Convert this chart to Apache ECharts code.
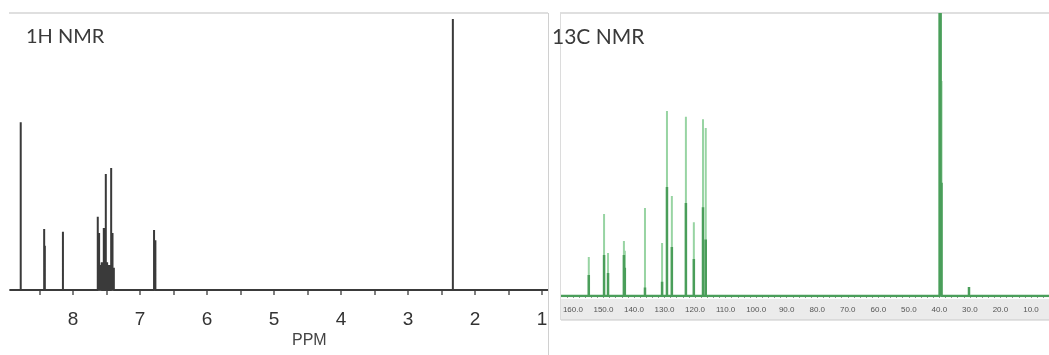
<!DOCTYPE html>
<html>
<head>
<meta charset="utf-8">
<script src="https://cdn.jsdelivr.net/npm/echarts@6/dist/echarts.min.js"></script>
<style>html,body{margin:0;padding:0;background:#fff}#c{width:1049px;height:355px}</style>
</head>
<body>
<div id="c"></div>
<script>
// ---- 1H NMR data (ppm, relative intensity %) ----
const h1Ppm = [8.78, 8.43, 8.42, 8.15, 7.63, 7.61, 7.59, 7.57, 7.54, 7.51, 7.49, 7.46, 7.43, 7.41, 7.39, 6.79, 6.77, 2.33];
const h1Int = [60.6, 22.0, 16.0, 21.0, 26.4, 20.6, 9.0, 10.0, 22.4, 41.9, 10.0, 9.0, 44.0, 20.6, 8.0, 21.7, 18.0, 97.8];
const h1Range = [8.94, 0.91];
const h1Labels = [1, 2, 3, 4, 5, 6, 7, 8];
const h1Ticks = [1, 1.5, 2, 2.5, 3, 3.5, 4, 4.5, 5, 5.5, 6, 6.5, 7, 7.5, 8, 8.5];

// ---- 13C NMR data (ppm, relative intensity %) ----
const c13Ppm = [154.8, 149.8, 148.5, 143.3, 143.0, 136.4, 130.8, 129.2, 127.6, 123.0, 120.4, 117.4, 116.5, 39.9, 39.6, 39.3, 30.3];
const c13Int = [13.8, 29.0, 15.2, 19.4, 16.0, 31.1, 18.7, 65.4, 35.3, 63.3, 26.1, 62.5, 59.4, 100, 100, 76, 3.2];
const c13Core = [7.4, 14.5, 8.1, 14.5, 10.0, 3.0, 5.0, 38.5, 17.3, 32.9, 13.1, 31.4, 20.0, 100, 100, 40, 3.2];
const c13Range = [163.9, 4.1];
const c13Labels = [10, 20, 30, 40, 50, 60, 70, 80, 90, 100, 110, 120, 130, 140, 150, 160];
const c13Ticks = [];
for (let v = 6; v <= 162; v += 2) c13Ticks.push(v);

function sticks(ppm, inten, range) {
  const idx = ppm.map((p, i) => i).sort((a, b) => ppm[b] - ppm[a]);
  const d = [[range[0], 0]];
  idx.forEach(i => { d.push([ppm[i], 0], [ppm[i], inten[i]], [ppm[i], 0]); });
  d.push([range[1], 0]);
  return d;
}

const chart = echarts.init(document.getElementById('c'), null, {renderer: 'canvas'});
chart.setOption({
  animation: false,
  backgroundColor: '#fff',
  grid: [
    {left: 10, right: 501, top: 13, bottom: 65},
    {left: 561, right: 0, top: 13, bottom: 59}
  ],
  xAxis: [
    {
      gridIndex: 0, type: 'value', inverse: true, min: h1Range[1], max: h1Range[0],
      offset: 15,
      axisLine: {show: true, lineStyle: {color: '#555', width: 2}},
      axisTick: {show: true, length: 5, lineStyle: {color: '#555', width: 1.5}, customValues: h1Ticks},
      axisLabel: {show: true, customValues: h1Labels, margin: 5, color: '#333', fontSize: 19,
        fontFamily: '"Liberation Sans Narrow", "Liberation Sans", Arial, sans-serif'},
      splitLine: {show: false}
    },
    {
      gridIndex: 1, type: 'value', inverse: true, min: c13Range[1], max: c13Range[0],
      offset: 4,
      axisLine: {show: true, lineStyle: {color: '#9fb6d6', width: 1}},
      axisTick: {show: true, length: 2, lineStyle: {color: '#999', width: 1}, customValues: c13Ticks},
      axisLabel: {show: true, customValues: c13Labels, margin: 6, color: '#555', fontSize: 8,
        fontFamily: '"Liberation Sans", Arial, sans-serif',
        formatter: v => v.toFixed(1)},
      splitLine: {show: false}
    }
  ],
  yAxis: [
    {gridIndex: 0, type: 'value', min: 0, max: 100, show: false},
    {gridIndex: 1, type: 'value', min: 0, max: 100, show: false}
  ],
  graphic: [
    {type: 'rect', z: -10, shape: {x: 561, y: 299, width: 488, height: 21}, style: {fill: '#ebebeb'}},
    {type: 'line', z: -9, shape: {x1: 561, y1: 320, x2: 1049, y2: 320}, style: {stroke: '#c8c8c8', lineWidth: 1}},
    {type: 'line', z: 1, shape: {x1: 9, y1: 13, x2: 548, y2: 13}, style: {stroke: '#d4d4d4', lineWidth: 1.5}},
    {type: 'line', z: 1, shape: {x1: 560, y1: 13, x2: 1049, y2: 13}, style: {stroke: '#d4d4d4', lineWidth: 1.5}},
    {type: 'line', z: 1, shape: {x1: 548.5, y1: 13, x2: 548.5, y2: 355}, style: {stroke: '#d0d0d0', lineWidth: 1}},
    {type: 'line', z: 1, shape: {x1: 560.5, y1: 13, x2: 560.5, y2: 320}, style: {stroke: '#dcdcdc', lineWidth: 1}},
    {type: 'text', z: 5, left: 26, top: 27, style: {text: '1H NMR', fill: '#3a3a3a', font: '20px Lato, "Open Sans", sans-serif'}},
    {type: 'text', z: 5, left: 552, top: 27, style: {text: '13C NMR', fill: '#3a3a3a', font: '21px Lato, "Open Sans", sans-serif'}},
    {type: 'text', z: 5, left: 292, top: 333, style: {text: 'PPM', fill: '#444', font: '16px "Liberation Sans Narrow", "Liberation Sans", sans-serif'}}
  ],
  series: [
    {
      type: 'line', xAxisIndex: 0, yAxisIndex: 0, showSymbol: false, silent: true,
      data: sticks(h1Ppm, h1Int, h1Range),
      lineStyle: {color: '#3a3a3a', width: 2}
    },
    {
      type: 'line', xAxisIndex: 1, yAxisIndex: 1, showSymbol: false, silent: true,
      data: sticks(c13Ppm, c13Int, c13Range),
      lineStyle: {color: '#98d4a3', width: 2}
    },
    {
      type: 'line', xAxisIndex: 1, yAxisIndex: 1, showSymbol: false, silent: true,
      data: sticks(c13Ppm, c13Core, c13Range),
      lineStyle: {color: '#4a9e5a', width: 2.5}
    }
  ]
});
</script>
</body>
</html>
